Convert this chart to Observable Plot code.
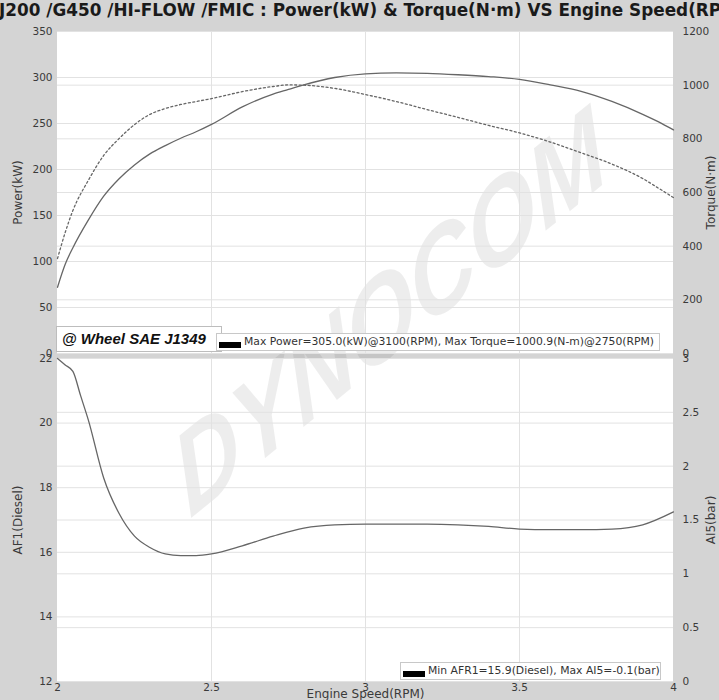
<!DOCTYPE html>
<html>
<head>
<meta charset="utf-8">
<script src="https://cdn.jsdelivr.net/npm/d3@7"></script>
<script src="https://cdn.jsdelivr.net/npm/@observablehq/plot@0.6"></script>
<style>
  body { margin: 0; background: #d4d4d4; }
  #chart { position: relative; width: 719px; height: 700px; background: #d4d4d4; overflow: hidden; font-family: "DejaVu Sans", sans-serif; }
  .abs { position: absolute; }
  .panel { position: absolute; background: #fff; }
  .legend { position: absolute; background: #fff; border: 1px solid #c8c8c8; box-sizing: border-box; font-size: 10.8px; color: #333; white-space: nowrap; }
  .swatch { position: absolute; background: #000; }
</style>
</head>
<body>
<div id="chart"></div>
<script>
// ---------- data ----------
const titleText = "J200 /G450 /HI-FLOW /FMIC : Power(kW) & Torque(N·m) VS Engine Speed(RPM)";
const rpmTicks = [2, 2.5, 3, 3.5, 4];
const powerTicks = [0, 50, 100, 150, 200, 250, 300, 350];
const torqueTicks = [0, 200, 400, 600, 800, 1000, 1200];
const afrTicks = [12, 14, 16, 18, 20, 22];
const ai5Ticks = [0, 0.5, 1, 1.5, 2, 2.5, 3];

const rpmPT  = [2.00, 2.025, 2.05, 2.1, 2.15, 2.2, 2.25, 2.3, 2.35, 2.4, 2.45, 2.5, 2.6, 2.7, 2.75, 2.8, 2.9, 3.0, 3.1, 3.2, 3.3, 3.4, 3.5, 3.6, 3.7, 3.8, 3.9, 3.95, 4.0];
const power  = [72, 97, 115, 145, 171, 190, 205, 217, 226, 234, 241, 249, 268, 282, 287, 292, 300, 304, 305, 304.5, 303, 301, 298, 292, 285, 274, 260, 252, 243];
const torque = [354, 451, 533, 645, 738, 801, 853, 891, 913, 928, 939, 950, 976, 995, 1000.9, 1000, 988, 965, 939, 909, 880, 850, 822, 788, 748, 706, 652, 617, 581];

const rpmAFR = [2.0, 2.025, 2.05, 2.075, 2.1, 2.15, 2.2, 2.25, 2.3, 2.35, 2.4, 2.45, 2.5, 2.6, 2.7, 2.8, 2.9, 3.0, 3.1, 3.2, 3.3, 3.4, 3.5, 3.6, 3.7, 3.8, 3.9, 4.0];
const afr1   = [22.0, 21.8, 21.6, 20.85, 20.1, 18.3, 17.2, 16.5, 16.15, 15.95, 15.9, 15.9, 15.95, 16.2, 16.5, 16.75, 16.85, 16.87, 16.87, 16.87, 16.85, 16.8, 16.72, 16.7, 16.7, 16.72, 16.85, 17.25];

const axisLabels = {power: "Power(kW)", torque: "Torque(N·m)", afr: "AF1(Diesel)", ai5: "AI5(bar)", rpm: "Engine Speed(RPM)"};
const legendTop = "Max Power=305.0(kW)@3100(RPM), Max Torque=1000.9(N-m)@2750(RPM)";
const legendBottom = "Min AFR1=15.9(Diesel), Max AI5=-0.1(bar)";
const conditionText = "@ Wheel SAE J1349";
const watermark = "DYNOCOM";

// ---------- build ----------
const ptData = rpmPT.map((r, i) => ({rpm: r, power: power[i], torque: torque[i]}));
const afrData = rpmAFR.map((r, i) => ({rpm: r, afr: afr1[i]}));
const tq2p = t => t * 350 / 1200;
const ai2af = a => 12 + a * 10 / 3;

const chart = document.getElementById("chart");
function add(el) { chart.appendChild(el); return el; }
function div(cls, css, text) {
  const d = document.createElement("div");
  d.className = cls;
  Object.assign(d.style, css);
  if (text != null) d.textContent = text;
  return add(d);
}

// white plot panels
div("panel", {left: "57px", top: "31px", width: "616px", height: "322px"});
div("panel", {left: "57px", top: "358px", width: "616px", height: "323px"});

// watermark
const ns = "http://www.w3.org/2000/svg";
const wm = document.createElementNS(ns, "svg");
wm.setAttribute("width", 719); wm.setAttribute("height", 700);
wm.setAttribute("class", "abs"); wm.style.left = "0px"; wm.style.top = "0px";
const wt = document.createElementNS(ns, "text");
wt.setAttribute("x", 0); wt.setAttribute("y", 0);
wt.setAttribute("text-anchor", "middle");
wt.setAttribute("dominant-baseline", "middle");
wt.setAttribute("transform", "translate(392,320) rotate(-39) skewX(-22)");
wt.setAttribute("font-family", "Liberation Sans");
wt.setAttribute("font-weight", "bold");
wt.setAttribute("font-style", "italic");
wt.setAttribute("font-size", "104");
wt.setAttribute("fill", "#000");
wt.setAttribute("fill-opacity", "0.07");
wt.textContent = watermark;
wm.appendChild(wt);
add(wm);

const gridStyle = {stroke: "#e2e2e2", strokeOpacity: 1, strokeWidth: 1};
const commonStyle = {background: "transparent", fontFamily: "DejaVu Sans", fontSize: "10.5px", color: "#3a3a3a", overflow: "visible"};
const labelStyle = {fontSize: 12, fill: "#3a3a3a", rotate: -90, textAnchor: "middle", lineAnchor: "middle"};

const topPlot = Plot.plot({
  width: 719, height: 360,
  marginTop: 31, marginBottom: 7, marginLeft: 57, marginRight: 46,
  style: commonStyle,
  x: {domain: [2, 4], axis: null},
  y: {domain: [0, 350]},
  marks: [
    Plot.gridY(powerTicks, gridStyle),
    Plot.gridY(torqueTicks.map(tq2p), gridStyle),
    Plot.gridX([2.5, 3, 3.5], gridStyle),
    Plot.axisY(powerTicks, {anchor: "left", tickSize: 0, tickPadding: 5, label: null}),
    Plot.axisY(torqueTicks.map(tq2p), {anchor: "right", tickSize: 0, tickPadding: 9, tickFormat: d => String(Math.round(d * 1200 / 350)), label: null}),
    Plot.text([axisLabels.power], {frameAnchor: "left", dx: -39, ...labelStyle}),
    Plot.text([axisLabels.torque], {frameAnchor: "right", dx: 38, ...labelStyle}),
    Plot.line(ptData, {x: "rpm", y: "power", stroke: "#666", strokeWidth: 1.3, curve: "monotone-x"}),
    Plot.line(ptData, {x: "rpm", y: d => tq2p(d.torque), stroke: "#666", strokeWidth: 1.3, strokeDasharray: "2,2.5", curve: "monotone-x"})
  ]
});
topPlot.classList.add("abs");
topPlot.style.left = "0px"; topPlot.style.top = "0px";
add(topPlot);

const botPlot = Plot.plot({
  width: 719, height: 360,
  marginTop: 18, marginBottom: 19, marginLeft: 57, marginRight: 46,
  style: commonStyle,
  x: {domain: [2, 4]},
  y: {domain: [12, 22]},
  marks: [
    Plot.gridY(afrTicks, gridStyle),
    Plot.gridY(ai5Ticks.map(ai2af), gridStyle),
    Plot.gridX([2.5, 3, 3.5], gridStyle),
    Plot.axisX(rpmTicks, {anchor: "bottom", tickSize: 0, tickPadding: 2, tickFormat: d => String(d), label: null}),
    Plot.axisY(afrTicks, {anchor: "left", tickSize: 0, tickPadding: 5, label: null}),
    Plot.axisY(ai5Ticks.map(ai2af), {anchor: "right", tickSize: 0, tickPadding: 9, tickFormat: d => String(Math.round((d - 12) * 3)/ 10), label: null}),
    Plot.text([axisLabels.afr], {frameAnchor: "left", dx: -39, ...labelStyle}),
    Plot.text([axisLabels.ai5], {frameAnchor: "right", dx: 38, ...labelStyle}),
    Plot.text([axisLabels.rpm], {frameAnchor: "bottom", dy: 13, fontSize: 12, fill: "#3a3a3a", lineAnchor: "middle"}),
    Plot.line(afrData, {x: "rpm", y: "afr", stroke: "#666", strokeWidth: 1.3, curve: "monotone-x"})
  ]
});
botPlot.classList.add("abs");
botPlot.style.left = "0px"; botPlot.style.top = "340px";
add(botPlot);

// legends
const cond = div("legend", {left: "56px", top: "326px", width: "166px", height: "26px", border: "1px solid #bdbdbd"});
const ct = document.createElement("div");
Object.assign(ct.style, {position: "absolute", left: "5px", top: "3px", fontFamily: "Liberation Sans", fontWeight: "bold", fontStyle: "italic", fontSize: "15px", color: "#111"});
ct.textContent = conditionText;
cond.appendChild(ct);

const lt = div("legend", {left: "216px", top: "333px", width: "444px", height: "18px"});
const s1 = document.createElement("div"); s1.className = "swatch";
Object.assign(s1.style, {left: "2px", top: "8px", width: "22px", height: "6px"});
lt.appendChild(s1);
const t1 = document.createElement("div");
Object.assign(t1.style, {position: "absolute", left: "27px", top: "1px"});
t1.textContent = legendTop; lt.appendChild(t1);

const lb = div("legend", {left: "400px", top: "662px", width: "261px", height: "18px"});
const s2 = document.createElement("div"); s2.className = "swatch";
Object.assign(s2.style, {left: "2px", top: "8px", width: "22px", height: "6px"});
lb.appendChild(s2);
const t2 = document.createElement("div");
Object.assign(t2.style, {position: "absolute", left: "27px", top: "1px"});
t2.textContent = legendBottom; lb.appendChild(t2);

// title
div("abs", {left: "-1px", top: "0px", fontFamily: "DejaVu Sans", fontWeight: "bold", fontSize: "16.85px", color: "#1a1a1a", whiteSpace: "nowrap"}, titleText);
</script>
</body>
</html>
